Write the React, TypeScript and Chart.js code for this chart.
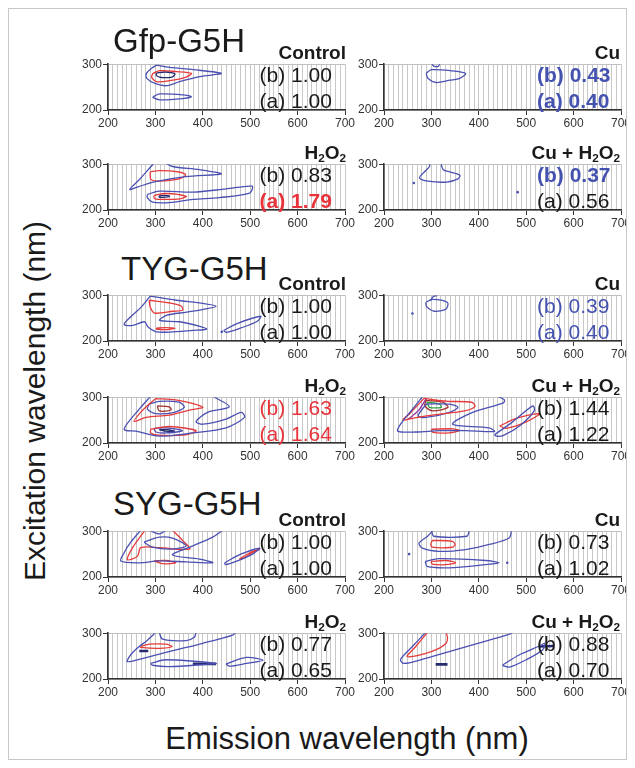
import React, { useEffect, useRef } from "react";
import { Chart, registerables } from "chart.js";
Chart.register(...registerables);

type Contour = [string, number[]];

// ---- tick labels / categories ----
const X_TICKS = [200, 300, 400, 500, 600, 700];
const Y_TICKS = [200, 300];
const PROBE_TITLES = ["Gfp-G5H", "TYG-G5H", "SYG-G5H"];
const CONDITIONS = ["Control", "Cu", "H2O2", "Cu + H2O2", "Control", "Cu", "H2O2", "Cu + H2O2", "Control", "Cu", "H2O2", "Cu + H2O2"];
// (b) and (a) relative intensities
const B_VALUES = ["1.00", "0.43", "0.83", "0.37", "1.00", "0.39", "1.63", "1.44", "1.00", "0.73", "0.77", "0.88"];
const A_VALUES = ["1.00", "0.40", "1.79", "0.56", "1.00", "0.40", "1.64", "1.22", "1.00", "1.02", "0.65", "0.70"];
const B_TONES = ["k", "B", "k", "B", "k", "b", "r", "k", "k", "k", "k", "k"];
const A_TONES = ["k", "B", "R", "k", "k", "b", "r", "k", "k", "k", "k", "k"];

// ---- contour lines: [level colour key, x1,y1,x2,y2,...] (emission nm, excitation nm) ----
const GFP_CONTROL: Contour[] = [
  ["b", [302, 298, 330, 293, 380, 288, 439, 280, 394, 273, 351, 262, 323, 253, 299, 258, 282, 269, 281, 280, 292, 291, 302, 298]],
  ["r", [295, 280, 309, 286, 344, 284, 376, 280, 365, 272, 330, 264, 302, 262, 292, 272, 295, 280]],
  ["n", [302, 281, 320, 283, 341, 279, 335, 272, 312, 271, 302, 275, 302, 281]],
  ["b", [295, 229, 309, 235, 358, 233, 376, 229, 358, 225, 309, 222, 295, 227, 295, 229]],
];
const GFP_CU: Contour[] = [
  ["b", [289, 280, 300, 288, 339, 286, 372, 280, 360, 269, 339, 265, 310, 260, 293, 269, 289, 280]],
  ["b", [301, 301, 305, 296, 314, 295, 318, 301]],
];
const GFP_H2O2: Contour[] = [
  ["b", [297, 302, 282, 285, 266, 266, 246, 245, 262, 250, 300, 262, 364, 273, 439, 279, 393, 288, 336, 295, 322, 302]],
  ["r", [289, 283, 308, 286, 350, 283, 364, 277, 350, 268, 308, 263, 291, 266, 289, 275, 289, 283]],
  ["b", [283, 234, 308, 241, 379, 239, 449, 246, 504, 252, 499, 237, 435, 227, 379, 223, 329, 216, 294, 217, 283, 227, 283, 234]],
  ["r", [297, 232, 322, 236, 365, 230, 354, 225, 322, 223, 298, 225, 297, 232]],
  ["n", [308, 231, 320, 232, 330, 230, 320, 228, 308, 228, 308, 231]],
];
const GFP_CU_H2O2: Contour[] = [
  ["b", [296, 302, 296, 295, 286, 284, 275, 270, 293, 263, 332, 261, 356, 268, 360, 276, 339, 283, 325, 288, 321, 299, 322, 302]],
  ["b.", [263, 259, 482, 239]],
];
const TYG_CONTROL: Contour[] = [
  ["b", [289, 298, 344, 289, 401, 282, 428, 276, 401, 269, 366, 263, 323, 256, 309, 245, 351, 242, 394, 232, 408, 226, 380, 223, 337, 220, 302, 220, 284, 231, 277, 242, 252, 234, 234, 236, 248, 253, 270, 274, 289, 298]],
  ["r", [287, 289, 330, 283, 355, 276, 357, 267, 337, 265, 298, 261, 289, 274, 287, 289]],
  ["r", [302, 228, 320, 229, 341, 228, 325, 225, 302, 226, 302, 228]],
  ["b", [444, 223, 472, 238, 522, 254, 515, 243, 479, 228, 450, 219, 444, 223]],
  ["b.", [440, 220]],
];
const TYG_CU: Contour[] = [
  ["b", [288, 284, 302, 291, 334, 284, 331, 270, 306, 265, 290, 275, 288, 284]],
  ["b", [298, 288, 304, 297, 312, 299]],
  ["b.", [260, 260]],
];
const TYG_H2O2: Contour[] = [
  ["b", [290, 302, 266, 274, 234, 230, 259, 226, 308, 215, 379, 222, 449, 233, 488, 256, 481, 267, 449, 252, 400, 241, 386, 247, 410, 267, 456, 279, 421, 302]],
  ["r", [301, 297, 343, 294, 400, 278, 372, 272, 329, 261, 280, 256, 255, 247, 269, 267, 287, 285, 301, 297]],
  ["b", [287, 285, 308, 291, 350, 289, 361, 278, 340, 267, 301, 264, 283, 274, 287, 285]],
  ["d", [304, 281, 329, 279, 333, 272, 308, 270, 304, 281]],
  ["r", [290, 230, 329, 236, 386, 227, 364, 218, 308, 217, 290, 222, 290, 230]],
  ["b", [297, 232, 322, 233, 357, 227, 322, 222, 301, 224, 297, 232]],
  ["n", [308, 229, 325, 229, 340, 226, 320, 226, 308, 229]],
];
const TYG_CU_H2O2: Contour[] = [
  ["b", [282, 302, 258, 271, 237, 244, 229, 226, 268, 224, 317, 227, 373, 227, 433, 225, 422, 233, 345, 241, 387, 267, 451, 287, 454, 294, 440, 302]],
  ["r", [285, 298, 255, 265, 240, 250, 265, 255, 310, 262, 370, 270, 392, 280, 385, 289, 335, 291, 300, 295, 285, 298]],
  ["b", [289, 285, 338, 285, 356, 278, 338, 267, 289, 256, 272, 259, 289, 285]],
  ["d", [289, 293, 324, 289, 335, 278, 303, 270, 286, 281, 289, 293]],
  ["g", [291, 289, 317, 285, 321, 278, 296, 278, 291, 289]],
  ["p", [289, 297, 272, 270, 251, 252]],
  ["r", [300, 230, 345, 231, 359, 227, 338, 222, 303, 223, 300, 230]],
  ["b", [433, 218, 470, 245, 514, 281, 517, 270, 488, 239, 451, 216, 437, 215, 433, 218]],
  ["r", [444, 237, 479, 254, 528, 264, 500, 246, 458, 232, 444, 237]],
];
const SYG_CONTROL: Contour[] = [
  ["b", [269, 302, 248, 276, 234, 253, 227, 235, 266, 231, 308, 235, 365, 233, 421, 231, 393, 239, 336, 248, 379, 268, 421, 287, 442, 302]],
  ["b", [276, 276, 308, 287, 336, 285, 365, 268, 336, 261, 294, 265, 276, 276]],
  ["b", [287, 302, 308, 294, 322, 302]],
  ["r", [278, 302, 252, 264, 241, 238, 262, 245, 269, 264, 308, 264, 372, 261, 358, 279, 336, 302]],
  ["r", [297, 235, 322, 236, 343, 231, 315, 229, 297, 235]],
  ["b", [446, 231, 480, 250, 520, 263, 505, 250, 470, 234, 448, 227, 446, 231]],
  ["r", [477, 239, 499, 253, 520, 261, 506, 254, 484, 240, 477, 239]],
];
const SYG_CU: Contour[] = [
  ["b", [304, 302, 292, 289, 274, 274, 281, 263, 316, 256, 372, 260, 422, 271, 464, 285, 469, 302]],
  ["b", [300, 302, 305, 289, 375, 289, 380, 302]],
  ["r", [302, 280, 344, 278, 350, 271, 344, 265, 302, 265, 299, 272, 302, 280]],
  ["b", [287, 234, 316, 240, 415, 236, 443, 231, 415, 227, 337, 220, 291, 223, 287, 234]],
  ["r", [299, 234, 330, 236, 351, 231, 330, 227, 302, 228, 299, 234]],
  ["b.", [253, 250, 460, 231]],
];
const SYG_H2O2: Contour[] = [
  ["b", [301, 302, 280, 282, 266, 271, 248, 253, 241, 238, 266, 243, 329, 260, 400, 278, 463, 296, 470, 302]],
  ["b", [308, 302, 315, 287, 365, 284, 382, 291, 386, 302]],
  ["r", [269, 271, 287, 276, 322, 276, 335, 271, 308, 267, 269, 269, 269, 271]],
  ["n", [266, 261, 285, 261]],
  ["b", [290, 234, 322, 242, 428, 234, 407, 232, 329, 227, 294, 230, 290, 234]],
  ["n", [379, 233, 428, 233]],
  ["b", [449, 233, 492, 247, 527, 241, 492, 234, 456, 228, 449, 233]],
];
const SYG_CU_H2O2: Contour[] = [
  ["b", [288, 302, 260, 271, 235, 243, 242, 234, 288, 245, 352, 264, 422, 285, 465, 298, 472, 302]],
  ["r", [292, 302, 267, 271, 249, 249, 288, 256, 316, 267, 331, 278, 334, 289, 331, 302]],
  ["n", [309, 232, 334, 232]],
  ["b", [451, 231, 486, 253, 528, 272, 539, 278, 535, 264, 500, 242, 465, 226, 451, 229, 451, 231]],
  ["n", [528, 271, 557, 272]],
];
const PANELS: Contour[][] = [
  GFP_CONTROL, GFP_CU, GFP_H2O2, GFP_CU_H2O2,
  TYG_CONTROL, TYG_CU, TYG_H2O2, TYG_CU_H2O2,
  SYG_CONTROL, SYG_CU, SYG_H2O2, SYG_CU_H2O2,
];

// ---- styling / layout ----
const LINE_COLORS: Record<string, string> = {
  b: "#4b50b2", r: "#e63b3b", n: "#262a6e", g: "#2ea043", p: "#8e2c9e", d: "#a3312b",
};
const TEXT_TONES: Record<string, { color: string; weight: number }> = {
  k: { color: "#1a1a1a", weight: 400 },
  b: { color: "#4452b0", weight: 400 },
  B: { color: "#4452b0", weight: 700 },
  r: { color: "#e8333a", weight: 400 },
  R: { color: "#e8333a", weight: 700 },
};
const FONT = '"Liberation Sans", Arial, Helvetica, sans-serif';
const OFF = 9; // container border + body margin
const ROW_TOPS = [64, 164, 295, 397, 531, 633];
const COL_LEFTS = [108, 384];
const PLOT_W = 237;
const PLOT_H = 46;
const Y_AXIS_W = 30;
const X_AXIS_H = 20;
const PAD_TOP = 8;
const PAD_RIGHT = 14;

function toPoints(a: number[]) {
  const out: { x: number; y: number }[] = [];
  for (let i = 0; i + 1 < a.length; i += 2) out.push({ x: a[i], y: a[i + 1] });
  return out;
}

function Panel({ contours, left, top }: { contours: Contour[]; left: number; top: number }) {
  const ref = useRef<HTMLCanvasElement>(null);
  const W = Y_AXIS_W + PLOT_W + PAD_RIGHT;
  const H = PAD_TOP + PLOT_H + X_AXIS_H;
  useEffect(() => {
    const datasets = contours.map(([k, arr]) => {
      const dot = k.endsWith(".");
      const c = LINE_COLORS[k[0]];
      const dash = k === "n" && arr.length <= 4;
      return {
        data: toPoints(arr),
        showLine: !dot,
        borderColor: c,
        backgroundColor: c,
        borderWidth: dash ? 2.6 : 1.3,
        pointRadius: dot ? 1.3 : 0,
        pointBorderWidth: 0,
        pointHoverRadius: 0,
        tension: 0.3,
        fill: false,
      };
    });
    const chart = new Chart(ref.current as HTMLCanvasElement, {
      type: "scatter",
      data: { datasets: datasets as any },
      options: {
        animation: false,
        responsive: false,
        devicePixelRatio: 1,
        events: [],
        layout: { padding: { top: PAD_TOP, right: PAD_RIGHT, left: 0, bottom: 0 } },
        plugins: { legend: { display: false }, tooltip: { enabled: false } },
        scales: {
          x: {
            type: "linear",
            min: 200,
            max: 700,
            afterFit: (s: any) => { s.height = X_AXIS_H; },
            ticks: {
              stepSize: 10,
              autoSkip: false,
              maxRotation: 0,
              padding: 1,
              color: "#333",
              font: { family: FONT, size: 12 },
              callback: (v: any) => (X_TICKS.includes(Number(v)) ? String(v) : ""),
            },
            grid: {
              color: "#c8c8c8",
              lineWidth: 1,
              tickLength: 5,
              tickColor: (ctx: any) => (ctx.tick && X_TICKS.includes(ctx.tick.value) ? "#333" : "rgba(0,0,0,0)"),
            },
            border: { color: "#333", width: 1.6 },
          },
          y: {
            type: "linear",
            min: 200,
            max: 300,
            afterFit: (s: any) => { s.width = Y_AXIS_W; },
            ticks: {
              stepSize: 100,
              padding: 1,
              color: "#333",
              font: { family: FONT, size: 12 },
              callback: (v: any) => (Y_TICKS.includes(Number(v)) ? String(v) : ""),
            },
            grid: { color: "#c0c0c0", lineWidth: 1, tickLength: 5, tickColor: "#333" },
            border: { color: "#333", width: 1.6 },
          },
        },
      } as any,
    });
    return () => chart.destroy();
  }, [contours]);
  return (
    <canvas
      ref={ref}
      width={W}
      height={H}
      style={{ position: "absolute", left: left - Y_AXIS_W - OFF, top: top - PAD_TOP - OFF, width: W, height: H }}
    />
  );
}

function Txt({ x, base, size, weight = 400, color = "#1a1a1a", align = "left", children }: any) {
  return (
    <div
      style={{
        position: "absolute",
        left: x - OFF,
        top: base - 0.8465 * size - OFF,
        fontSize: size,
        lineHeight: `${size}px`,
        fontWeight: weight,
        color,
        whiteSpace: "nowrap",
        transform: align === "right" ? "translateX(-100%)" : undefined,
      }}
    >
      {children}
    </div>
  );
}

function Sub({ children }: any) {
  return <span style={{ fontSize: "0.62em", verticalAlign: "-0.28em", lineHeight: 0 }}>{children}</span>;
}

function condLabel(s: string) {
  if (s.includes("H2O2")) {
    const pre = s.replace("H2O2", "");
    return (
      <>
        {pre}H<Sub>2</Sub>O<Sub>2</Sub>
      </>
    );
  }
  return s;
}

export default function App() {
  const titleLefts = [113, 121, 113];
  const titleBases = [52, 280, 515];
  return (
    <div
      style={{
        position: "relative",
        width: 619,
        height: 752,
        border: "1px solid #c8c8c8",
        boxSizing: "border-box",
        overflow: "hidden",
        background: "#fff",
        fontFamily: FONT,
      }}
    >
      {PANELS.map((p, i) => {
        const row = Math.floor(i / 2);
        const col = i % 2;
        return <Panel key={"p" + i} contours={p} left={COL_LEFTS[col]} top={ROW_TOPS[row]} />;
      })}
      {PROBE_TITLES.map((t, i) => (
        <Txt key={"t" + i} x={titleLefts[i]} base={titleBases[i]} size={33}>
          {t}
        </Txt>
      ))}
      {CONDITIONS.map((c, i) => {
        const row = Math.floor(i / 2);
        const col = i % 2;
        const top = ROW_TOPS[row];
        const right = col === 0 ? 346 : 620;
        const vx = col === 0 ? 259.5 : 537;
        const tb = TEXT_TONES[B_TONES[i]];
        const ta = TEXT_TONES[A_TONES[i]];
        return (
          <React.Fragment key={"c" + i}>
            <Txt x={right} base={top - 4.5} size={19} weight={700} align="right">
              {condLabel(c)}
            </Txt>
            <Txt x={vx} base={top + 17.5} size={21} weight={tb.weight} color={tb.color}>
              (b) {B_VALUES[i]}
            </Txt>
            <Txt x={vx} base={top + 43.5} size={21} weight={ta.weight} color={ta.color}>
              (a) {A_VALUES[i]}
            </Txt>
          </React.Fragment>
        );
      })}
      <div
        style={{
          position: "absolute",
          left: 35 - OFF,
          top: 401 - OFF,
          fontSize: 30,
          lineHeight: "30px",
          color: "#1a1a1a",
          whiteSpace: "nowrap",
          transform: "translate(-50%, -50%) rotate(-90deg)",
        }}
      >
        Excitation wavelength (nm)
      </div>
      <div
        style={{
          position: "absolute",
          left: 347 - OFF,
          top: 749 - 0.8465 * 31 - OFF,
          fontSize: 31,
          lineHeight: "31px",
          color: "#1a1a1a",
          whiteSpace: "nowrap",
          transform: "translateX(-50%)",
        }}
      >
        Emission wavelength (nm)
      </div>
    </div>
  );
}
